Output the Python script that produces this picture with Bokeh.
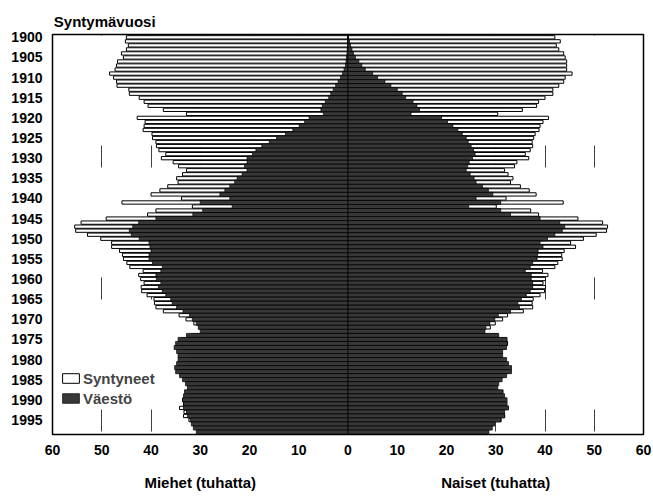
from bokeh.plotting import figure
from bokeh.models import Range1d, FixedTicker, Legend, LegendItem, ColumnDataSource, LinearAxis
from bokeh.embed import file_html
from bokeh.resources import INLINE

# Birth years 1900..1998
years = list(range(1900, 1999))

# Syntyneet (born), thousands
male_born = [45.0, 45.2, 44.6, 45.0, 46.0, 45.6, 46.8, 47.0, 47.3, 48.4,
             47.6, 47.0, 46.9, 44.5, 44.4, 42.4, 41.4, 40.6, 37.5, 32.8,
             42.8, 41.2, 41.4, 41.6, 39.8, 39.7, 39.0, 38.9, 38.4, 37.0,
             37.9, 35.5, 34.4, 32.8, 33.6, 34.8, 34.5, 36.6, 38.2, 40.0,
             33.8, 45.9, 31.6, 39.0, 40.7, 49.1, 54.2, 55.5, 55.3, 52.9,
             50.2, 48.0, 48.0, 46.4, 45.8, 45.6, 44.9, 44.3, 41.6, 42.5,
             42.1, 41.4, 42.0, 41.9, 40.8, 39.4, 39.3, 39.0, 37.5, 34.3,
             32.9, 31.3, 30.2, 29.2, 31.8, 33.9, 33.9, 33.5, 32.4, 32.4,
             32.3, 32.6, 33.8, 34.3, 33.4, 32.6, 31.2, 30.7, 32.2, 32.2,
             33.6, 33.4, 34.2, 33.3, 33.4, 32.3, 31.1, 30.3, 29.2]

female_born = [42.0, 43.1, 42.3, 42.8, 43.8, 44.1, 44.4, 44.4, 44.4, 45.5,
               44.1, 43.8, 42.8, 41.6, 41.6, 40.0, 38.7, 38.3, 35.4, 30.4,
               40.7, 39.6, 39.0, 38.8, 38.0, 37.7, 37.4, 37.5, 37.0, 36.0,
               36.7, 34.3, 33.8, 31.8, 32.5, 33.5, 33.0, 35.0, 36.8, 38.2,
               32.1, 43.7, 30.1, 37.1, 38.7, 46.7, 51.7, 52.7, 52.5, 50.4,
               47.8, 45.2, 46.2, 43.9, 43.4, 43.5, 42.6, 42.0, 39.5, 40.6,
               40.1, 39.6, 40.1, 39.9, 39.0, 37.6, 37.4, 37.5, 35.6, 32.4,
               31.4, 29.9, 28.9, 27.6, 30.4, 32.2, 32.4, 32.0, 31.0, 30.8,
               31.1, 31.6, 32.3, 32.7, 31.7, 30.9, 29.9, 29.3, 30.9, 31.1,
               31.9, 32.0, 32.5, 31.5, 31.8, 31.1, 29.6, 29.0, 27.9]

# Väestö (population), thousands
male_pop = [0.0, 0.05, 0.1, 0.15, 0.2, 0.3, 0.4, 0.5, 0.8, 1.1,
            1.5, 2.0, 2.5, 3.0, 3.5, 3.9, 4.6, 5.2, 5.5, 5.0,
            7.9, 8.8, 9.9, 11.2, 12.7, 14.5, 16.0, 17.5, 18.7, 19.4,
            20.5, 20.5, 21.0, 20.5, 21.5, 22.5, 23.0, 24.0, 25.0, 26.0,
            24.0, 30.0, 23.5, 29.5, 31.5, 39.0, 42.5, 43.7, 44.4, 44.0,
            42.4, 40.4, 40.2, 40.0, 40.4, 40.4, 39.7, 37.7, 38.0, 39.0,
            38.9, 38.0, 38.5, 37.7, 37.0, 36.0, 35.7, 34.8, 33.5, 32.2,
            31.6, 30.8, 30.4, 30.0, 32.8, 34.5, 35.0, 35.3, 34.8, 34.5,
            34.5, 34.8, 35.2, 35.0, 34.2, 33.6, 33.0, 32.6, 33.2, 33.4,
            33.6, 33.4, 33.4, 32.8, 32.6, 32.0, 31.8, 31.4, 30.8]

female_pop = [0.1, 0.3, 0.5, 0.8, 1.1, 1.5, 2.2, 2.8, 3.5, 5.0,
              6.0, 7.5, 8.7, 10.0, 11.0, 11.7, 13.2, 14.0, 14.5, 12.8,
              19.0, 20.2, 21.3, 22.3, 23.2, 24.0, 24.4, 25.0, 25.5, 25.8,
              25.3, 24.6, 24.3, 24.0, 24.8, 25.6, 26.0, 27.3, 28.5, 29.4,
              26.0, 31.0, 24.5, 31.0, 33.0, 39.0, 43.0, 44.0, 43.5, 42.0,
              40.5, 39.0, 39.6, 38.6, 38.5, 38.4, 37.5, 37.0, 36.0, 37.2,
              37.2, 37.5, 37.5, 37.0, 36.2, 35.2, 34.5, 34.8, 33.0, 30.5,
              29.8, 28.8, 28.0, 27.8, 30.6, 32.3, 32.4, 32.2, 31.4, 31.4,
              32.2, 32.6, 33.2, 33.2, 32.2, 31.3, 30.6, 30.4, 31.5, 31.8,
              32.3, 32.3, 32.6, 31.8, 31.8, 31.0, 29.8, 29.3, 28.6]

x_ticks = [-60, -50, -40, -30, -20, -10, 0, 10, 20, 30, 40, 50, 60]
y_ticks = list(range(1900, 2000, 5))
grid_ticks = [-50, -40, -30, -20, -10, 10, 20, 30, 40, 50]

title_tick = [-49.4]
title_text = ["Syntymävuosi"]
side_ticks = [-30, 30]
side_titles = ["Miehet (tuhatta)", "Naiset (tuhatta)"]
legend_born = "Syntyneet"
legend_pop = "Väestö"

FONT = "Liberation Sans"

src = ColumnDataSource(dict(
    year=years,
    mb=[-v for v in male_born],
    fb=female_born,
    mp=[-v for v in male_pop],
    fp=female_pop,
))

p = figure(width=653, height=496, output_backend="svg", toolbar_location=None,
           x_range=Range1d(-60, 60), y_range=Range1d(1998.6, 1899.3),
           min_border_left=52, min_border_right=10, min_border_top=34, min_border_bottom=62)
p.background_fill_color = "white"
p.border_fill_color = "white"
p.outline_line_color = "black"
p.outline_line_width = 1.5

born_style = dict(fill_color="white", line_color="black", line_width=1)
pop_style = dict(fill_color="#383838", line_color="black", line_width=0.7)

r_mb = p.hbar(y="year", left="mb", right=0, height=0.82, source=src, **born_style)
r_fb = p.hbar(y="year", left=0, right="fb", height=0.82, source=src, **born_style)
r_mp = p.hbar(y="year", left="mp", right=0, height=1.0, source=src, **pop_style)
r_fp = p.hbar(y="year", left=0, right="fp", height=1.0, source=src, **pop_style)

# axes
main_x = p.below[0]
main_y = p.left[0]
main_x.ticker = FixedTicker(ticks=x_ticks)
main_x.major_label_overrides = {t: str(abs(t)) for t in x_ticks}
main_y.ticker = FixedTicker(ticks=y_ticks)

side_axis = LinearAxis(ticker=FixedTicker(ticks=side_ticks),
                       major_label_overrides=dict(zip(side_ticks, side_titles)))
p.add_layout(side_axis, "below")

title_axis = LinearAxis(ticker=FixedTicker(ticks=title_tick),
                        major_label_overrides=dict(zip(title_tick, title_text)))
p.add_layout(title_axis, "above")

for ax in (main_x, main_y, side_axis, title_axis):
    ax.axis_line_color = None
    ax.major_tick_line_color = None
    ax.minor_tick_line_color = None
    ax.major_tick_out = 0
    ax.major_tick_in = 0
    ax.minor_tick_out = 0
    ax.minor_tick_in = 0
    ax.major_label_text_font = FONT
    ax.major_label_text_font_style = "bold"
    ax.major_label_text_font_size = "14px"
    ax.major_label_text_color = "black"
side_axis.major_label_text_font_size = "15px"
title_axis.major_label_text_font_size = "15px"
main_x.major_label_standoff = 10
side_axis.major_label_standoff = 16
title_axis.major_label_standoff = 5
main_y.major_label_standoff = 10

# grid
p.ygrid.grid_line_color = None
p.xgrid.ticker = FixedTicker(ticks=grid_ticks)
p.xgrid.grid_line_color = "black"
p.xgrid.grid_line_alpha = 0.75
p.xgrid.grid_line_dash = "22 110"
p.xgrid.grid_line_dash_offset = 21
p.xgrid.grid_line_width = 1

legend = Legend(items=[LegendItem(label=legend_born, renderers=[r_mb]),
                       LegendItem(label=legend_pop, renderers=[r_mp])],
                location=(8, 26))
legend.padding = 0
legend.margin = 0
legend.spacing = 0
legend.border_line_color = None
legend.background_fill_alpha = 0
legend.glyph_width = 21
legend.glyph_height = 12
legend.label_height = 20
legend.label_standoff = 2
legend.label_text_font = FONT
legend.label_text_font_style = "bold"
legend.label_text_font_size = "15px"
p.add_layout(legend)

open("out.html", "w").write(file_html(p, INLINE))
